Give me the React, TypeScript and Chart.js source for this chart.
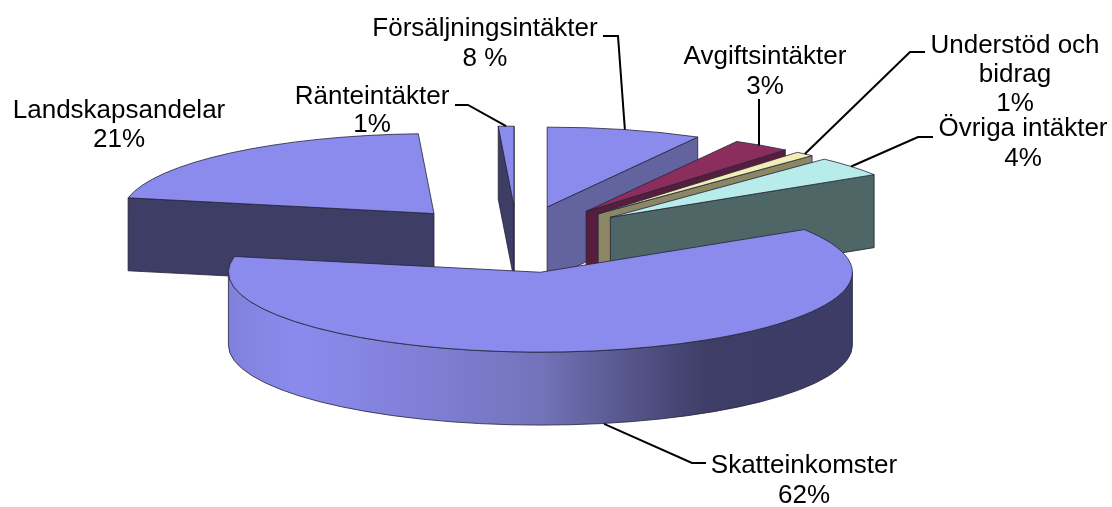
import React, { useEffect, useRef } from "react";
import { Chart, registerables } from "chart.js";

Chart.register(...registerables);

const categories = [
  "Försäljningsintäkter",
  "Avgiftsintäkter",
  "Understöd och bidrag",
  "Övriga intäkter",
  "Skatteinkomster",
  "Landskapsandelar",
  "Ränteintäkter",
];
const values = [8, 3, 1, 4, 62, 21, 0.8];
const labelLines = [
  ["Försäljningsintäkter", "8 %"],
  ["Avgiftsintäkter", "3%"],
  ["Understöd och", "bidrag", "1%"],
  ["Övriga intäkter", "4%"],
  ["Skatteinkomster", "62%"],
  ["Landskapsandelar", "21%"],
  ["Ränteintäkter", "1%"],
];
const topColors = ["#8B8BEE", "#8B2D5D", "#F2EEB8", "#B8ECEB", "#8B8BEE", "#8B8BEE", "#8B8BEE"];
const faceColors = ["#63639F", "#561E3C", "#8B8765", "#4F6666", "#3D3D66", "#3D3D66", "#3D3D66"];
const explode = [121, 121, 121, 121, 140, 121, 121];
// Small sideways corrections standing in for the original's perspective
const nudgeX = [0, 1, 1, 0, -2, -4, 0];
const anchorNudgeX = [0, 0, 0, 0, 7, 0, 0];

const labelPos = [
  { x: 485, y: 29, lh: 30 },
  { x: 765, y: 57, lh: 30 },
  { x: 1015, y: 46, lh: 29 },
  { x: 1023, y: 129, lh: 30 },
  { x: 804, y: 466, lh: 30 },
  { x: 119, y: 111, lh: 29 },
  { x: 372, y: 97, lh: 28 },
];
// Leader-line elbows (from the label to the slice rim); null = no leader
const leaders: (number[][] | null)[] = [
  [[603, 36], [618, 36]],
  [[759, 99]],
  [[925, 52], [910, 52]],
  [[933, 137], [918, 137]],
  [[706, 463], [692, 463]],
  null,
  [[455, 105], [468, 105]],
];

const Y_SCALE = 0.256;
const DEPTH = 73;

const wallStops: [number, string][] = [
  [0, "#8080DC"],
  [0.11, "#8B8BEE"],
  [0.3, "#8080D8"],
  [0.5, "#7373BA"],
  [0.63, "#58588F"],
  [0.77, "#3D3D66"],
  [1, "#3C3C66"],
];

const EDGE = "rgba(35,35,55,0.8)";

const pie3d = {
  id: "pie3d",
  beforeDatasetDraw(chart: any) {
    const ctx: CanvasRenderingContext2D = chart.ctx;
    const arcs: any[] = chart.getDatasetMeta(0).data;
    const geom = arcs.map((arc, i) => {
      const p = arc.getProps(["x", "y", "startAngle", "endAngle", "outerRadius"], true);
      const mid = (p.startAngle + p.endAngle) / 2;
      const d = arc.options.offset;
      return {
        i,
        mid,
        start: p.startAngle,
        end: p.endAngle,
        R: p.outerRadius,
        ax: p.x + d * Math.cos(mid) + nudgeX[i],
        ay: p.y + d * Math.sin(mid) * Y_SCALE,
      };
    });
    const rim = (g: any, a: number) => [g.ax + g.R * Math.cos(a), g.ay + g.R * Y_SCALE * Math.sin(a)];
    const order = [...geom].sort((a, b) => a.ay - b.ay);
    ctx.save();
    ctx.lineWidth = 1;
    ctx.lineJoin = "round";
    ctx.strokeStyle = EDGE;
    for (const g of order) {
      const face = faceColors[g.i];
      const cut = (a: number) => {
        const [x, y] = rim(g, a);
        ctx.beginPath();
        ctx.moveTo(g.ax, g.ay);
        ctx.lineTo(x, y);
        ctx.lineTo(x, y + DEPTH);
        ctx.lineTo(g.ax, g.ay + DEPTH);
        ctx.closePath();
        ctx.fillStyle = face;
        ctx.fill();
        ctx.stroke();
      };
      if (Math.cos(g.start) < 0) cut(g.start);
      if (Math.cos(g.end) > 0) cut(g.end);
      // outer wall: only the part of the rim facing the viewer
      const a0 = Math.max(g.start, 0);
      const a1 = Math.min(g.end, Math.PI);
      if (a1 > a0) {
        const grad = ctx.createLinearGradient(g.ax - g.R, 0, g.ax + g.R, 0);
        wallStops.forEach(([s, c]) => grad.addColorStop(s, c));
        ctx.beginPath();
        ctx.ellipse(g.ax, g.ay, g.R, g.R * Y_SCALE, 0, a0, a1);
        ctx.ellipse(g.ax, g.ay + DEPTH, g.R, g.R * Y_SCALE, 0, a1, a0, true);
        ctx.closePath();
        ctx.fillStyle = grad;
        ctx.fill();
        ctx.stroke();
      }
      // top face
      ctx.beginPath();
      ctx.moveTo(g.ax, g.ay);
      ctx.ellipse(g.ax, g.ay, g.R, g.R * Y_SCALE, 0, g.start, g.end);
      ctx.closePath();
      ctx.fillStyle = topColors[g.i];
      ctx.fill();
      ctx.stroke();
    }
    // leader lines, anchored on the rim at each slice's middle angle
    ctx.strokeStyle = "#000";
    ctx.lineWidth = 2;
    ctx.lineJoin = "miter";
    geom.forEach((g) => {
      const pts = leaders[g.i];
      if (!pts) return;
      const [x, y] = rim(g, g.mid);
      ctx.beginPath();
      ctx.moveTo(pts[0][0], pts[0][1]);
      pts.slice(1).forEach((q) => ctx.lineTo(q[0], q[1]));
      ctx.lineTo(pts.length === 1 ? pts[0][0] : x + anchorNudgeX[g.i], y + (Math.sin(g.mid) > 0 ? DEPTH : 0));
      ctx.stroke();
    });
    // labels
    ctx.fillStyle = "#000";
    ctx.font = '26px "Liberation Sans", Arial, sans-serif';
    ctx.textAlign = "center";
    ctx.textBaseline = "middle";
    labelLines.forEach((lines, i) => {
      const pos = labelPos[i];
      lines.forEach((t, k) => ctx.fillText(t, pos.x, pos.y + k * pos.lh));
    });
    ctx.restore();
    return false;
  },
};

export default function App() {
  const ref = useRef<HTMLCanvasElement>(null);
  useEffect(() => {
    const chart = new Chart(ref.current!, {
      type: "pie",
      data: {
        labels: categories,
        datasets: [{ data: values, backgroundColor: topColors, offset: explode, borderWidth: 0 }],
      },
      options: {
        animation: false,
        responsive: false,
        events: [],
        radius: 312,
        layout: { padding: { left: 0, top: 0, right: 78, bottom: 33 } },
        plugins: { legend: { display: false }, tooltip: { enabled: false }, title: { display: false } },
      } as any,
      plugins: [pie3d as any],
    });
    return () => chart.destroy();
  }, []);
  return (
    <div style={{ position: "absolute", left: 0, top: 0, width: 1112, height: 507, background: "#fff" }}>
      <canvas ref={ref} width={1112} height={507} style={{ display: "block" }} />
    </div>
  );
}
